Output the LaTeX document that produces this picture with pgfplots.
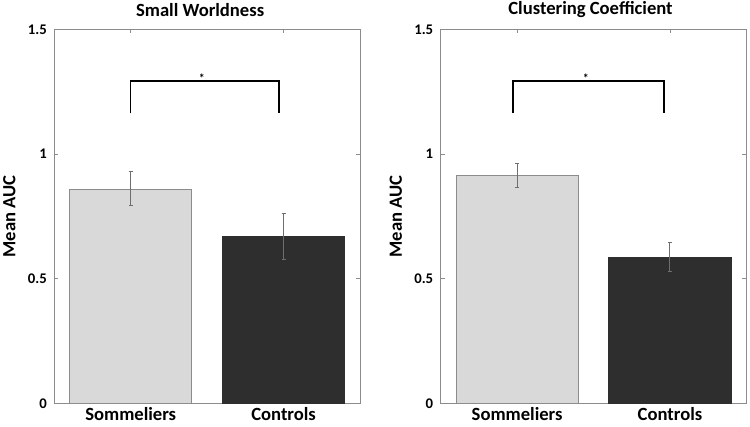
\documentclass[border=0pt]{standalone}
\usepackage{pgfplots}
\pgfplotsset{compat=1.18}
\usepackage{fontspec}
\setmainfont{Carlito}
\definecolor{lightbar}{HTML}{D9D9D9}
\definecolor{darkbar}{HTML}{2E2E2E}
\definecolor{axgray}{HTML}{8C8C8C}
\definecolor{errgray}{HTML}{6E6E6E}
\pgfplotsset{
  every axis title shift=0pt,
  panel/.style={
    scale only axis, width=305.7bp, height=374bp,
    anchor=south west,
    xmin=0.5, xmax=2.5, ymin=0, ymax=1.5,
    xtick={1,2}, xticklabels={Sommeliers,Controls},
    ytick={0,0.5,1,1.5}, yticklabels={0,0.5,1,1.5},
    tick align=inside, major tick length=4bp,
    axis line style={axgray, line width=0.8bp},
    every tick/.style={axgray, line width=0.8bp},
    xticklabel style={font=\fontsize{18.7}{22}\selectfont\bfseries, yshift=-3bp, inner sep=1bp},
    yticklabel style={font=\fontsize{14.8}{17}\selectfont\bfseries, xshift=-4bp},
    ylabel={Mean AUC},
    ylabel style={font=\fontsize{18.7}{22}\selectfont\bfseries, at={(axis description cs:-0.147,0.5)}, anchor=center},
    title style={font=\fontsize{18.7}{22}\selectfont\bfseries, anchor=center, yshift=19.6bp},
  },
  lbar/.style={ybar, bar shift=0pt, bar width=0.8, fill=lightbar, draw=axgray, line width=0.8bp},
  dbar/.style={ybar, bar shift=0pt, bar width=0.8, fill=darkbar, draw=darkbar, line width=0.8bp},
  errs/.style={error bars/.cd, y dir=both, y explicit,
    error bar style={errgray, line width=1bp},
    error mark options={errgray, rotate=90, mark size=2bp, line width=1bp}},
  bracket/.style={black, line width=1.4bp, mark=none},
}
\begin{document}
\begin{tikzpicture}
\useasboundingbox (0,0) rectangle (750bp,427bp);
% Left panel
\begin{axis}[panel, at={(54.3bp,23.7bp)}, title={Small Worldness},
  title style={at={(axis description cs:0.477,1)}}]
\addplot[lbar, errs] coordinates {(1,0.858) += (0,0.070) -= (0,0.065)};
\addplot[dbar, errs] coordinates {(2,0.668) += (0,0.094) -= (0,0.093)};
\addplot[bracket] coordinates {(1,1.163) (1,1.293) (1.97,1.293) (1.97,1.163)};
\node[font=\fontsize{12}{14}\selectfont\bfseries] at (axis cs:1.465,1.305) {*};
\end{axis}
% Right panel
\begin{axis}[panel, at={(440.7bp,23.7bp)}, title={Clustering Coefficient},
  title style={at={(axis description cs:0.49,1)}}]
\addplot[lbar, errs] coordinates {(1,0.913) += (0,0.048) -= (0,0.047)};
\addplot[dbar, errs] coordinates {(2,0.586) += (0,0.060) -= (0,0.059)};
\addplot[bracket] coordinates {(0.974,1.163) (0.974,1.293) (1.96,1.293) (1.96,1.163)};
\node[font=\fontsize{12}{14}\selectfont\bfseries] at (axis cs:1.45,1.305) {*};
\end{axis}
\end{tikzpicture}
\end{document}
